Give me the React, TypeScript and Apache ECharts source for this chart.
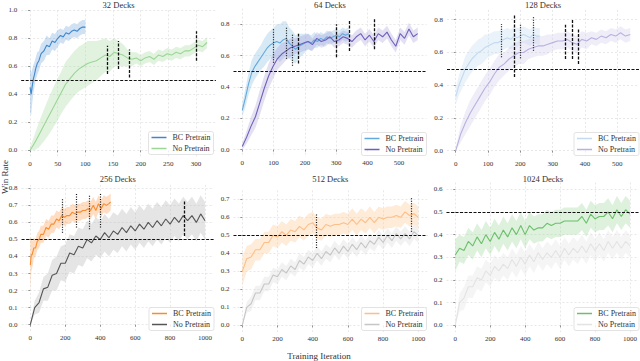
import React, { useEffect, useRef } from "react";
import * as echarts from "echarts";

// ---------- tick labels / titles ----------
const titles = ["32 Decks", "64 Decks", "128 Decks", "256 Decks", "512 Decks", "1024 Decks"];
const xTicks1 = [0, 50, 100, 150, 200, 250, 300];
const xTicks2 = [0, 100, 200, 300, 400, 500];
const xTicks3 = [0, 100, 200, 300, 400, 500];
const xTicks4 = [0, 200, 400, 600, 800, 1000];
const yTicks1 = [0.0, 0.2, 0.4, 0.6, 0.8, 1.0];
const yTicks2 = [0.0, 0.2, 0.4, 0.6, 0.8];
const yTicks3 = [0.0, 0.2, 0.4, 0.6, 0.8];
const yTicks4 = [0.0, 0.1, 0.2, 0.3, 0.4, 0.5, 0.6, 0.7, 0.8];
const yTicks5 = [0.0, 0.1, 0.2, 0.3, 0.4, 0.5, 0.6, 0.7];
const yTicks6 = [0.0, 0.1, 0.2, 0.3, 0.4, 0.5, 0.6];
const threshold = 0.5;

// ---------- 32 Decks ----------
const x1b = [0, 2, 4, 6, 8, 10, 13, 16, 20, 25, 30, 35, 40, 45, 50, 55, 60, 65, 70, 75, 80, 85, 90, 95, 100];
const y1b = [0.45, 0.40, 0.46, 0.51, 0.54, 0.58, 0.62, 0.64, 0.69, 0.71, 0.75, 0.74, 0.78, 0.77, 0.80, 0.82, 0.81, 0.84, 0.83, 0.85, 0.86, 0.85, 0.87, 0.88, 0.88];
const s1b = [0.18, 0.15, 0.12, 0.10, 0.09, 0.08, 0.08, 0.07, 0.07, 0.07, 0.07, 0.06, 0.06, 0.06, 0.06, 0.05, 0.05, 0.05, 0.05, 0.05, 0.05, 0.05, 0.05, 0.05, 0.05];
const x1n = [0, 8, 16, 24, 32, 40, 48, 56, 64, 72, 80, 88, 96, 104, 112, 120, 128, 136, 144, 152, 160, 168, 176, 184, 192, 200, 208, 216, 224, 232, 240, 248, 256, 264, 272, 280, 288, 296, 304, 312, 320];
const y1n = [0.00, 0.05, 0.11, 0.17, 0.23, 0.29, 0.35, 0.41, 0.47, 0.51, 0.55, 0.58, 0.60, 0.62, 0.63, 0.64, 0.66, 0.68, 0.67, 0.70, 0.69, 0.68, 0.66, 0.65, 0.66, 0.64, 0.66, 0.67, 0.65, 0.68, 0.67, 0.69, 0.68, 0.70, 0.69, 0.71, 0.71, 0.73, 0.75, 0.74, 0.77];
const s1n = [0.02, 0.06, 0.09, 0.11, 0.13, 0.14, 0.15, 0.15, 0.16, 0.16, 0.16, 0.16, 0.16, 0.16, 0.15, 0.14, 0.13, 0.12, 0.11, 0.10, 0.09, 0.08, 0.06, 0.05, 0.04, 0.04, 0.04, 0.04, 0.04, 0.04, 0.04, 0.04, 0.04, 0.04, 0.04, 0.04, 0.04, 0.04, 0.04, 0.04, 0.04];
const dashed1 = [[140, 0.545, 0.747], [160, 0.58, 0.78], [180, 0.52, 0.72], [300, 0.64, 0.85]];
const dotted1: number[][] = [];

// ---------- 64 Decks ----------
const x2b = [0, 10, 20, 30, 40, 50, 60, 70, 80, 90, 100, 110, 120, 130, 140, 150, 160, 170, 180, 190, 200, 210, 220, 230, 240, 250, 260, 270, 280, 290, 300, 310, 320, 330, 340];
const y2b = [0.25, 0.33, 0.42, 0.49, 0.53, 0.56, 0.59, 0.62, 0.65, 0.67, 0.68, 0.69, 0.68, 0.70, 0.71, 0.68, 0.66, 0.64, 0.66, 0.67, 0.68, 0.69, 0.68, 0.70, 0.69, 0.71, 0.70, 0.72, 0.71, 0.72, 0.73, 0.72, 0.74, 0.73, 0.74];
const s2b = [0.04, 0.06, 0.07, 0.08, 0.08, 0.08, 0.08, 0.09, 0.09, 0.09, 0.10, 0.11, 0.12, 0.12, 0.11, 0.10, 0.10, 0.09, 0.08, 0.07, 0.06, 0.05, 0.05, 0.05, 0.04, 0.04, 0.04, 0.04, 0.04, 0.04, 0.04, 0.04, 0.04, 0.04, 0.04];
const x2n = [0, 14, 28, 42, 56, 70, 84, 98, 112, 126, 140, 154, 168, 182, 196, 210, 224, 238, 252, 266, 280, 294, 308, 322, 336, 350, 364, 378, 392, 406, 420, 434, 448, 462, 476, 490, 504, 518, 532, 546, 560];
const y2n = [0.02, 0.08, 0.15, 0.21, 0.30, 0.39, 0.47, 0.53, 0.58, 0.61, 0.63, 0.65, 0.66, 0.67, 0.68, 0.69, 0.67, 0.71, 0.69, 0.70, 0.72, 0.69, 0.70, 0.72, 0.71, 0.69, 0.72, 0.74, 0.70, 0.73, 0.69, 0.74, 0.72, 0.75, 0.70, 0.66, 0.74, 0.71, 0.77, 0.72, 0.74];
const s2n = [0.02, 0.04, 0.06, 0.07, 0.08, 0.08, 0.08, 0.08, 0.07, 0.07, 0.06, 0.06, 0.05, 0.05, 0.05, 0.05, 0.04, 0.04, 0.04, 0.04, 0.04, 0.04, 0.04, 0.04, 0.04, 0.04, 0.04, 0.04, 0.04, 0.04, 0.04, 0.04, 0.04, 0.04, 0.04, 0.04, 0.04, 0.04, 0.04, 0.04, 0.04];
const dashed2 = [[180, 0.55, 0.74], [300, 0.59, 0.80], [340, 0.63, 0.83], [420, 0.64, 0.84]];
const dotted2 = [[100, 0.555, 0.77], [140, 0.58, 0.78], [160, 0.535, 0.74]];

// ---------- 128 Decks ----------
const x3b = [0, 10, 20, 30, 40, 50, 60, 70, 80, 90, 100, 110, 120, 130, 140, 150, 160, 170, 180, 190, 200, 210, 220, 230, 240, 250, 260];
const y3b = [0.33, 0.40, 0.45, 0.50, 0.53, 0.56, 0.58, 0.60, 0.61, 0.63, 0.64, 0.65, 0.66, 0.66, 0.67, 0.68, 0.69, 0.68, 0.70, 0.69, 0.70, 0.71, 0.70, 0.69, 0.71, 0.70, 0.70];
const s3b = [0.05, 0.06, 0.07, 0.08, 0.08, 0.08, 0.08, 0.08, 0.08, 0.08, 0.07, 0.07, 0.07, 0.07, 0.07, 0.06, 0.06, 0.06, 0.06, 0.06, 0.05, 0.05, 0.05, 0.05, 0.05, 0.05, 0.05];
const x3n = [0, 15, 30, 45, 60, 75, 90, 105, 120, 135, 150, 165, 180, 195, 210, 225, 240, 255, 270, 285, 300, 315, 330, 345, 360, 375, 390, 405, 420, 435, 450, 465, 480, 495, 510, 525, 540];
const y3n = [0.00, 0.10, 0.17, 0.23, 0.28, 0.33, 0.38, 0.42, 0.47, 0.51, 0.53, 0.56, 0.58, 0.60, 0.60, 0.62, 0.63, 0.64, 0.64, 0.65, 0.66, 0.67, 0.67, 0.68, 0.66, 0.65, 0.68, 0.67, 0.69, 0.68, 0.70, 0.69, 0.71, 0.70, 0.72, 0.70, 0.71];
const s3n = [0.02, 0.05, 0.07, 0.08, 0.08, 0.08, 0.08, 0.08, 0.08, 0.08, 0.07, 0.07, 0.07, 0.07, 0.07, 0.06, 0.06, 0.06, 0.06, 0.06, 0.05, 0.05, 0.05, 0.05, 0.05, 0.05, 0.05, 0.05, 0.04, 0.04, 0.04, 0.04, 0.04, 0.04, 0.04, 0.04, 0.04];
const dashed3 = [[180, 0.45, 0.83], [340, 0.56, 0.77], [360, 0.56, 0.80], [380, 0.53, 0.74]];
const dotted3 = [[140, 0.57, 0.774], [200, 0.565, 0.774], [240, 0.61, 0.82]];

// ---------- 256 Decks ----------
const x4b = [0, 5, 10, 20, 30, 40, 50, 60, 75, 90, 105, 120, 135, 150, 165, 180, 195, 210, 225, 240, 255, 270, 285, 300, 315, 330, 345, 360, 375, 390, 405, 420, 435, 450, 460];
const y4b = [0.35, 0.41, 0.41, 0.45, 0.45, 0.49, 0.50, 0.53, 0.53, 0.57, 0.56, 0.59, 0.59, 0.62, 0.61, 0.64, 0.63, 0.64, 0.64, 0.66, 0.65, 0.66, 0.66, 0.67, 0.67, 0.68, 0.67, 0.70, 0.67, 0.71, 0.68, 0.71, 0.70, 0.71, 0.72];
const s4b = [0.16, 0.10, 0.08, 0.06, 0.05, 0.05, 0.05, 0.05, 0.05, 0.05, 0.05, 0.05, 0.05, 0.05, 0.05, 0.05, 0.05, 0.05, 0.05, 0.05, 0.05, 0.05, 0.05, 0.05, 0.05, 0.05, 0.05, 0.05, 0.05, 0.05, 0.05, 0.05, 0.05, 0.05, 0.05];
const xLong = [0, 25, 50, 75, 100, 125, 150, 175, 200, 225, 250, 275, 300, 325, 350, 375, 400, 425, 450, 475, 500, 525, 550, 575, 600, 625, 650, 675, 700, 725, 750, 775, 800, 825, 850, 875, 900, 925, 950, 975, 1000];
const y4n = [0.00, 0.10, 0.13, 0.21, 0.22, 0.29, 0.30, 0.36, 0.36, 0.42, 0.41, 0.46, 0.45, 0.50, 0.48, 0.52, 0.50, 0.54, 0.51, 0.55, 0.53, 0.57, 0.54, 0.58, 0.55, 0.59, 0.56, 0.60, 0.57, 0.61, 0.58, 0.62, 0.59, 0.63, 0.60, 0.64, 0.61, 0.64, 0.60, 0.65, 0.61];
const s4n = [0.01, 0.04, 0.06, 0.07, 0.08, 0.09, 0.10, 0.10, 0.11, 0.11, 0.11, 0.11, 0.11, 0.11, 0.11, 0.11, 0.11, 0.11, 0.11, 0.11, 0.11, 0.11, 0.11, 0.11, 0.11, 0.11, 0.11, 0.11, 0.11, 0.11, 0.11, 0.11, 0.11, 0.11, 0.11, 0.11, 0.11, 0.11, 0.11, 0.11, 0.11];
const dashed4 = [[880, 0.52, 0.73]];
const dotted4 = [[180, 0.54, 0.74], [260, 0.57, 0.77], [340, 0.56, 0.76], [400, 0.57, 0.77]];

// ---------- 512 Decks ----------
const y5b = [0.30, 0.37, 0.38, 0.42, 0.42, 0.46, 0.46, 0.50, 0.49, 0.52, 0.50, 0.53, 0.52, 0.55, 0.53, 0.56, 0.57, 0.54, 0.53, 0.56, 0.55, 0.56, 0.56, 0.57, 0.56, 0.59, 0.56, 0.59, 0.57, 0.60, 0.57, 0.60, 0.59, 0.60, 0.60, 0.61, 0.60, 0.63, 0.61, 0.62, 0.60];
const s5b = [0.08, 0.07, 0.07, 0.06, 0.06, 0.06, 0.06, 0.06, 0.06, 0.06, 0.06, 0.06, 0.06, 0.06, 0.06, 0.06, 0.06, 0.06, 0.06, 0.06, 0.06, 0.06, 0.06, 0.06, 0.06, 0.06, 0.06, 0.06, 0.06, 0.06, 0.06, 0.06, 0.06, 0.06, 0.06, 0.06, 0.06, 0.06, 0.06, 0.06, 0.06];
const y5n = [0.00, 0.10, 0.12, 0.18, 0.18, 0.23, 0.23, 0.28, 0.27, 0.31, 0.29, 0.33, 0.31, 0.36, 0.34, 0.38, 0.36, 0.40, 0.37, 0.41, 0.39, 0.43, 0.40, 0.44, 0.41, 0.45, 0.42, 0.46, 0.43, 0.47, 0.45, 0.49, 0.46, 0.50, 0.47, 0.51, 0.48, 0.51, 0.48, 0.52, 0.50];
const s5n = [0.01, 0.03, 0.04, 0.04, 0.04, 0.04, 0.04, 0.04, 0.04, 0.04, 0.04, 0.04, 0.04, 0.04, 0.04, 0.04, 0.04, 0.04, 0.04, 0.04, 0.04, 0.04, 0.04, 0.04, 0.04, 0.04, 0.04, 0.04, 0.04, 0.04, 0.04, 0.04, 0.04, 0.04, 0.04, 0.04, 0.04, 0.04, 0.04, 0.04, 0.04];
const dashed5: number[][] = [];
const dotted5 = [[420, 0.43, 0.62], [960, 0.52, 0.71]];

// ---------- 1024 Decks ----------
const y6b = [0.31, 0.34, 0.33, 0.37, 0.35, 0.39, 0.36, 0.40, 0.37, 0.41, 0.38, 0.42, 0.39, 0.43, 0.40, 0.44, 0.40, 0.44, 0.42, 0.43, 0.43, 0.45, 0.44, 0.45, 0.45, 0.46, 0.46, 0.46, 0.46, 0.48, 0.45, 0.49, 0.47, 0.48, 0.48, 0.50, 0.47, 0.51, 0.48, 0.51, 0.49];
const s6b = [0.07, 0.06, 0.06, 0.06, 0.06, 0.06, 0.06, 0.06, 0.06, 0.06, 0.06, 0.06, 0.06, 0.06, 0.06, 0.06, 0.06, 0.06, 0.06, 0.06, 0.06, 0.06, 0.06, 0.06, 0.06, 0.06, 0.06, 0.06, 0.06, 0.06, 0.06, 0.06, 0.06, 0.06, 0.06, 0.06, 0.06, 0.06, 0.06, 0.06, 0.06];
const y6n = [0.00, 0.10, 0.12, 0.17, 0.17, 0.21, 0.20, 0.24, 0.22, 0.26, 0.24, 0.27, 0.25, 0.29, 0.26, 0.30, 0.27, 0.31, 0.28, 0.32, 0.29, 0.32, 0.30, 0.33, 0.30, 0.34, 0.31, 0.34, 0.32, 0.35, 0.32, 0.36, 0.33, 0.36, 0.33, 0.37, 0.34, 0.37, 0.34, 0.37, 0.35];
const s6n = [0.01, 0.04, 0.05, 0.05, 0.05, 0.05, 0.05, 0.05, 0.05, 0.05, 0.05, 0.05, 0.05, 0.05, 0.05, 0.05, 0.05, 0.05, 0.05, 0.05, 0.05, 0.05, 0.05, 0.05, 0.05, 0.05, 0.05, 0.05, 0.05, 0.05, 0.05, 0.05, 0.05, 0.05, 0.05, 0.05, 0.05, 0.05, 0.05, 0.05, 0.05];
const dashed6: number[][] = [];
const dotted6: number[][] = [];

const seriesNames = ["BC Pretrain", "No Pretrain"];

// ---------- layout & styles (not data) ----------
const layouts = [
  { left: 21.2, top: 10.3, width: 194.7, height: 147, xMin: -16, xMax: 336, yMin: -0.05, yMax: 1.0 },
  { left: 233.5, top: 8.6, width: 193, height: 148.1, xMin: -28, xMax: 588, yMin: -0.045, yMax: 0.9 },
  { left: 447, top: 9.9, width: 192, height: 147.8, xMin: -27, xMax: 567, yMin: -0.043, yMax: 0.86 },
  { left: 21.6, top: 184.9, width: 192.2, height: 146.6, xMin: -50, xMax: 1050, yMin: -0.04, yMax: 0.82 },
  { left: 233.5, top: 190.3, width: 193.6, height: 141.7, xMin: -50, xMax: 1050, yMin: -0.037, yMax: 0.75 },
  { left: 446.5, top: 182.5, width: 193, height: 149.6, xMin: -50, xMax: 1050, yMin: -0.03, yMax: 0.63 },
];
const legendPos = [
  { left: 148.5, top: 131.5 },
  { left: 361.5, top: 132.5 },
  { left: 574, top: 132.5 },
  { left: 149, top: 307.5 },
  { left: 361.5, top: 307.5 },
  { left: 574, top: 307.5 },
];
const titleY = [4.5, 4.5, 4.5, 178.5, 178.5, 178.5];
const colors = [
  { bc: "#3f87cc", bcBand: "#3f87cc", bcOp: 0.25, no: "#9ad694", noBand: "#a8dca2", noOp: 0.35 },
  { bc: "#62a9dc", bcBand: "#62a9dc", bcOp: 0.25, no: "#6f5fbd", noBand: "#8f82cc", noOp: 0.25 },
  { bc: "#c3daf0", bcBand: "#c3daf0", bcOp: 0.35, no: "#b7b2e0", noBand: "#c9c5e8", noOp: 0.3 },
  { bc: "#f98c2f", bcBand: "#fb9e50", bcOp: 0.35, no: "#555555", noBand: "#bdbdbd", noOp: 0.4 },
  { bc: "#fdbf88", bcBand: "#fdc590", bcOp: 0.35, no: "#c6c6c6", noBand: "#d4d4d4", noOp: 0.3 },
  { bc: "#6cc06b", bcBand: "#8fd18d", bcOp: 0.3, no: "#e3e3e3", noBand: "#e6e6e6", noOp: 0.4 },
];
const FONT = '"Liberation Serif", "DejaVu Serif", serif';

const panels = [
  { xb: x1b, yb: y1b, sb: s1b, xn: x1n, yn: y1n, sn: s1n, xt: xTicks1, yt: yTicks1, dashed: dashed1, dotted: dotted1 },
  { xb: x2b, yb: y2b, sb: s2b, xn: x2n, yn: y2n, sn: s2n, xt: xTicks2, yt: yTicks2, dashed: dashed2, dotted: dotted2 },
  { xb: x3b, yb: y3b, sb: s3b, xn: x3n, yn: y3n, sn: s3n, xt: xTicks3, yt: yTicks3, dashed: dashed3, dotted: dotted3 },
  { xb: x4b, yb: y4b, sb: s4b, xn: xLong, yn: y4n, sn: s4n, xt: xTicks4, yt: yTicks4, dashed: dashed4, dotted: dotted4 },
  { xb: xLong, yb: y5b, sb: s5b, xn: xLong, yn: y5n, sn: s5n, xt: xTicks4, yt: yTicks5, dashed: dashed5, dotted: dotted5 },
  { xb: xLong, yb: y6b, sb: s6b, xn: xLong, yn: y6n, sn: s6n, xt: xTicks4, yt: yTicks6, dashed: dashed6, dotted: dotted6 },
];

const zw = (i: number) => "\u200b".repeat(i);

// band drawn as one polygon through the axes' own scales (api.coord)
function bandSeries(xs: number[], ys: number[], ss: number[], idx: number, color: string, op: number) {
  const lo = ys.map((y, i) => Math.max(0, y - ss[i]));
  const hi = ys.map((y, i) => y + ss[i]);
  return {
    type: "custom",
    xAxisIndex: idx,
    yAxisIndex: idx,
    silent: true,
    clip: true,
    z: 1,
    data: [[xs[0], ys[0]]],
    renderItem: (_params: any, api: any) => {
      const pts: number[][] = [];
      for (let k = 0; k < xs.length; k++) pts.push(api.coord([xs[k], hi[k]]));
      for (let k = xs.length - 1; k >= 0; k--) pts.push(api.coord([xs[k], lo[k]]));
      return { type: "polygon", shape: { points: pts }, style: { fill: color, opacity: op } };
    },
  };
}

function buildOption() {
  const grid: any[] = [];
  const xAxis: any[] = [];
  const yAxis: any[] = [];
  const series: any[] = [];
  const legend: any[] = [];
  const graphic: any[] = [];

  panels.forEach((p, i) => {
    const L = layouts[i];
    const c = colors[i];
    grid.push({ left: L.left, top: L.top, width: L.width, height: L.height, containLabel: false });
    xAxis.push({
      type: "value",
      gridIndex: i,
      min: L.xMin,
      max: L.xMax,
      axisLine: { show: false },
      axisTick: { show: true, customValues: p.xt, length: 2, lineStyle: { color: "#777", width: 0.8 } },
      axisLabel: {
        customValues: p.xt,
        fontSize: 7,
        color: "#333",
        fontFamily: FONT,
        margin: 3,
        formatter: (v: number) => String(v),
      },
      splitLine: { show: true, lineStyle: { color: "#e2e2e2", type: [2, 2], width: 0.8 } },
    });
    yAxis.push({
      type: "value",
      gridIndex: i,
      min: L.yMin,
      max: L.yMax,
      axisLine: { show: false },
      axisTick: { show: true, customValues: p.yt, length: 2, lineStyle: { color: "#777", width: 0.8 } },
      axisLabel: {
        customValues: p.yt,
        fontSize: 7,
        color: "#333",
        fontFamily: FONT,
        margin: 4,
        formatter: (v: number) => v.toFixed(1),
      },
      splitLine: { show: true, lineStyle: { color: "#e2e2e2", type: [2, 2], width: 0.8 } },
    });

    const bcName = seriesNames[0] + zw(i);
    const noName = seriesNames[1] + zw(i);

    series.push(bandSeries(p.xb, p.yb, p.sb, i, c.bcBand, c.bcOp));
    series.push({
      type: "line",
      name: bcName,
      xAxisIndex: i,
      yAxisIndex: i,
      data: p.yb.map((y, k) => [p.xb[k], y]),
      symbol: "none",
      lineStyle: { color: c.bc, width: 1.1 },
      itemStyle: { color: c.bc },
      z: 2,
    });
    series.push(bandSeries(p.xn, p.yn, p.sn, i, c.noBand, c.noOp));

    const markData: any[] = [
      { yAxis: threshold, lineStyle: { color: "#111", type: [3, 1.5], width: 1 } },
    ];
    p.dashed.forEach((m) => {
      markData.push([
        { coord: [m[0], m[1]], lineStyle: { color: "#111", type: [3, 1.5], width: 1.3 } },
        { coord: [m[0], m[2]] },
      ]);
    });
    p.dotted.forEach((m) => {
      markData.push([
        { coord: [m[0], m[1]], lineStyle: { color: "#111", type: [1, 1.5], width: 1.2 } },
        { coord: [m[0], m[2]] },
      ]);
    });

    series.push({
      type: "line",
      name: noName,
      xAxisIndex: i,
      yAxisIndex: i,
      data: p.yn.map((y, k) => [p.xn[k], y]),
      symbol: "none",
      lineStyle: { color: c.no, width: 1.1 },
      itemStyle: { color: c.no },
      z: 3,
      markLine: {
        silent: true,
        symbol: ["none", "none"],
        label: { show: false },
        animation: false,
        data: markData,
      },
    });

    legend.push({
      data: [bcName, noName],
      orient: "vertical",
      left: legendPos[i].left,
      top: legendPos[i].top,
      icon: "rect",
      itemWidth: 15,
      itemHeight: 1.5,
      itemGap: 1,
      padding: [1, 3, 1, 3],
      borderColor: "#dcdcdc",
      borderWidth: 0.8,
      borderRadius: 2,
      backgroundColor: "rgba(255,255,255,0.85)",
      selectedMode: false,
      formatter: (n: string) => n.replace(/\u200b/g, ""),
      textStyle: { fontSize: 8, fontFamily: FONT, color: "#333", lineHeight: 10, padding: [0, 0, 0, 1] },
    });

    graphic.push({
      type: "text",
      x: L.left + L.width / 2,
      y: titleY[i],
      style: {
        text: titles[i],
        textAlign: "center",
        textVerticalAlign: "middle",
        font: `normal 8.5px ${FONT}`,
        fill: "#333",
      },
    });
  });

  graphic.push({
    type: "text",
    x: 319,
    y: 356,
    style: { text: "Training Iteration", textAlign: "center", textVerticalAlign: "middle", font: `normal 9px ${FONT}`, fill: "#333" },
  });
  graphic.push({
    type: "text",
    x: 4.5,
    y: 177,
    rotation: Math.PI / 2,
    style: { text: "Win Rate", textAlign: "center", textVerticalAlign: "middle", font: `normal 9px ${FONT}`, fill: "#333" },
  });

  return {
    animation: false,
    backgroundColor: "#ffffff",
    grid,
    xAxis,
    yAxis,
    legend,
    series,
    graphic,
  };
}

export default function App() {
  const ref = useRef<HTMLDivElement>(null);
  useEffect(() => {
    if (!ref.current) return;
    const chart = echarts.init(ref.current, undefined, { renderer: "svg" });
    chart.setOption(buildOption() as any);
    return () => chart.dispose();
  }, []);
  return <div ref={ref} style={{ position: "fixed", left: 0, top: 0, width: 640, height: 361 }} />;
}
